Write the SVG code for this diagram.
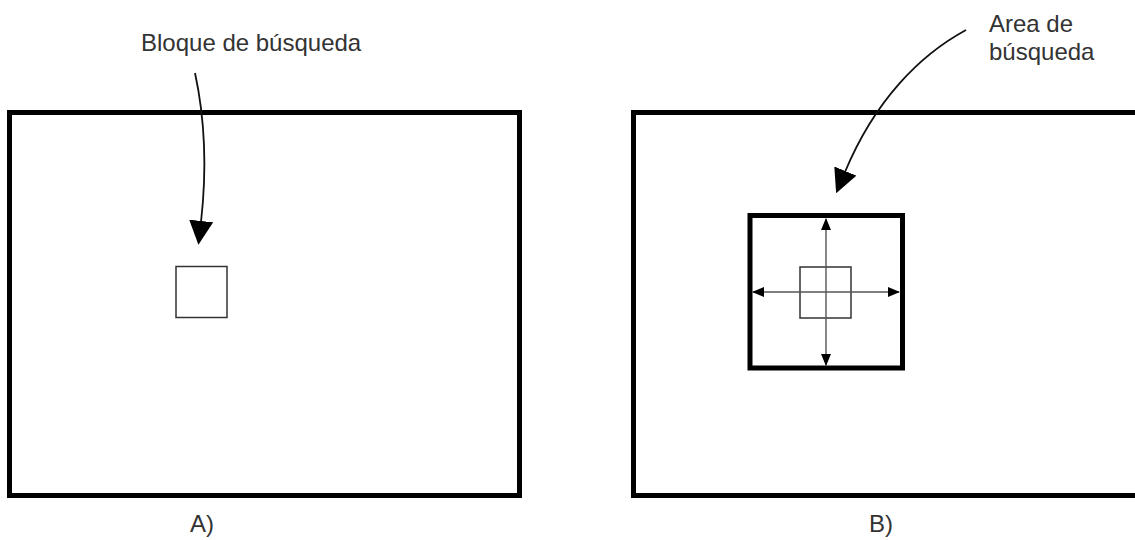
<svg xmlns="http://www.w3.org/2000/svg" width="1135" height="540" viewBox="0 0 1135 540">
<style>
.frame{fill:none;stroke:#000;stroke-width:5}
.thin{fill:none;stroke:#333;stroke-width:1.5}
.lbl{font-family:"Liberation Sans",Arial,sans-serif;font-size:24px;fill:#333}
.conn{fill:none;stroke:#111;stroke-width:1.8}
.gl{fill:none;stroke:#555;stroke-width:1.4}
</style>
<defs>
<marker id="big" markerWidth="24" markerHeight="24" viewBox="0 0 24 24" refX="1" refY="12" orient="auto" markerUnits="userSpaceOnUse">
<path d="M0,0 L24,12 L0,24 Z" fill="#000"/>
</marker>
<marker id="sm" markerWidth="12" markerHeight="10" viewBox="0 0 12 10" refX="11" refY="5" orient="auto" markerUnits="userSpaceOnUse">
<path d="M0,0 L12,5 L0,10 Z" fill="#000"/>
</marker>
</defs>
<rect width="1135" height="540" fill="#fff"/>
<g id="panelA">
<rect class="frame" x="9.5" y="112.5" width="510" height="383"/>
<rect id="bloque" class="thin" x="176" y="266.5" width="51" height="51"/>
<text class="lbl" x="141" y="51">Bloque de búsqueda</text>
<text class="lbl" x="190" y="532">A)</text>
</g>
<g id="panelB">
<rect class="frame" x="633.5" y="112.5" width="520" height="383"/>
<rect id="area" class="frame" x="750" y="215.5" width="152.5" height="152.5"/>
<rect id="bloqueB" class="thin" x="800" y="267" width="51" height="51"/>
<text class="lbl" x="989" y="32">Area de</text>
<text class="lbl" x="989" y="60">búsqueda</text>
<text class="lbl" x="869" y="532">B)</text>
</g>
<g id="connectors">
<path class="conn" d="M195,73 C203,110 208,160 201,222" marker-end="url(#big)"/>
<path class="conn" d="M966,30 C920,55 875,100 845,172" marker-end="url(#big)"/>
<line class="gl" x1="826" y1="292" x2="826" y2="219" marker-end="url(#sm)"/>
<line class="gl" x1="826" y1="292" x2="826" y2="365" marker-end="url(#sm)"/>
<line class="gl" x1="826" y1="292" x2="753" y2="292" marker-end="url(#sm)"/>
<line class="gl" x1="826" y1="292" x2="899" y2="292" marker-end="url(#sm)"/>
</g>
</svg>
